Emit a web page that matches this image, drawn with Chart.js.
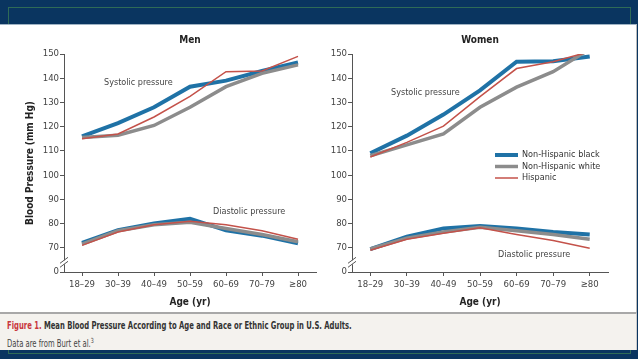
<!DOCTYPE html>
<html>
<head>
<meta charset="utf-8">
<script src="https://cdn.jsdelivr.net/npm/chart.js@4.4.0/dist/chart.umd.min.js"></script>
<style>
  html, body { margin: 0; padding: 0; }
  body { width: 638px; height: 359px; background: #0a3560; position: relative; overflow: hidden;
         font-family: 'Liberation Sans Narrow', 'DejaVu Sans Condensed', 'Liberation Sans', sans-serif; }
  #frame { position: absolute; left: 8px; top: 7px; width: 621px; height: 345px; border: 1px solid #2f6b57; }
  #panel { position: absolute; left: 0; top: 24px; width: 636px; height: 288px; background: #fff;
           border-top: 1px solid #9fb3c4; border-right: 1px solid #bbb; }
  #caption { position: absolute; left: 0; top: 312px; width: 636px; height: 36px; background: #f4f2ee;
             border-top: 2px solid #a8a8a8; border-right: 1px solid #ccc; color: #333; font-size: 10px; }
  #caption div { position: absolute; left: 7px; white-space: nowrap; transform: scaleX(0.76); transform-origin: 0 0; }
  #caption .l1 { top: 6px; font-weight: bold; }
  #caption .l1 span { color: #c8363c; }
  #caption .l2 { top: 23px; color: #444; }
  .box { position: absolute; top: 24px; height: 288px; }
</style>
</head>
<body>
<div id="frame"></div>
<div id="panel"></div>
<div class="box" style="left:0;width:320px"><canvas id="men" width="320" height="288"></canvas></div>
<div class="box" style="left:320px;width:316px"><canvas id="women" width="316" height="288"></canvas></div>
<div id="caption">
  <div class="l1"><span>Figure 1.</span> Mean Blood Pressure According to Age and Race or Ethnic Group in U.S. Adults.</div>
  <div class="l2">Data are from Burt et al.<sup style="font-size:7px">3</sup></div>
</div>
<script>
//Data
const ages = ['18–29', '30–39', '40–49', '50–59', '60–69', '70–79', '≥80'];
const groups = ['Non-Hispanic black', 'Non-Hispanic white', 'Hispanic'];
const yTicks = [0, 70, 80, 90, 100, 110, 120, 130, 140, 150];

const menSysBlack = [116, 121.5, 128, 136.5, 139, 143, 146.5];
const menSysWhite = [115.5, 116.5, 120.5, 128, 136.5, 142, 145.5];
const menSysHisp = [115, 117, 124, 132.5, 142.7, 143, 149];
const menDiaBlack = [72, 77.3, 80, 82, 77.2, 75, 71.8];
const menDiaWhite = [71.5, 77, 79.5, 80.5, 78, 75.5, 72.5];
const menDiaHisp = [71, 76.5, 79.5, 81, 79.5, 77, 73.5];

const womenSysBlack = [109, 116.3, 125, 135, 146.8, 147, 149];
const womenSysWhite = [108, 112.5, 117, 128, 136.3, 142.7, 152];
const womenSysHisp = [107.5, 113.5, 120.2, 132.4, 144, 146.8, 151];
const womenDiaBlack = [69.4, 74.6, 78, 79, 78, 76.5, 75.5];
const womenDiaWhite = [69.5, 74, 76.5, 78.5, 77, 75.5, 73.5];
const womenDiaHisp = [69, 73.5, 76, 78.3, 75.5, 73, 69.8];

const colors = ['#1f72a6', '#8c8c8c', '#c4524a'];
const widths = [4, 3.5, 1.5];
const font = "'Liberation Sans Narrow', 'DejaVu Sans Condensed', 'Liberation Sans', sans-serif";

// 0 sits one step below 70 on the broken axis
const axisZero = 60;

function makeSets(sys, dia) {
    let sets = [];
    for (let i = 0; i < 3; i++) {
        [sys[i], dia[i]].forEach(arr => {
            sets.push({
                data: arr,
                borderColor: colors[i],
                borderWidth: widths[i],
                order: 2 - i,
                pointRadius: 0,
                tension: 0,
                fill: false
            });
        });
    }
    return sets;
}

//Plugin drawing titles, annotations, the axis break and the legend
const extras = {
    id: 'extras',
    afterDraw(chart, args, opts) {
        const c = chart.ctx;
        const area = chart.chartArea;
        const y = chart.scales.y;
        c.save();
        c.fillStyle = '#222';
        c.textAlign = 'center';
        c.textBaseline = 'middle';
        c.font = 'bold 10px ' + font;
        c.fillText(opts.title, (area.left + area.right) / 2, 16);
        c.font = '9px ' + font;
        c.fillStyle = '#444';
        c.textAlign = 'left';
        opts.notes.forEach(n => c.fillText(n[0], n[1], n[2]));
        // axis break
        const yb = y.getPixelForValue(64);
        c.fillStyle = '#fff';
        c.fillRect(area.left - 3, yb - 2, 6, 4);
        c.strokeStyle = '#555';
        c.lineWidth = 1;
        [-2, 2].forEach(d => {
            c.beginPath();
            c.moveTo(area.left - 4, yb + d + 3);
            c.lineTo(area.left + 4, yb + d - 3);
            c.stroke();
        });
        // legend
        if (opts.legend) {
            const lx = opts.legend[0], ly = opts.legend[1];
            groups.forEach((g, i) => {
                c.strokeStyle = colors[i];
                c.lineWidth = widths[i];
                c.beginPath();
                c.moveTo(lx, ly + i * 11.5);
                c.lineTo(lx + 23, ly + i * 11.5);
                c.stroke();
                c.fillStyle = '#333';
                c.fillText(g, lx + 27, ly + i * 11.5);
            });
        }
        c.restore();
    }
};

function makeChart(id, sets, opts, yWidth, padRight, yTitle) {
    return new Chart(document.getElementById(id), {
        type: 'line',
        data: { labels: ages, datasets: sets },
        plugins: [extras],
        options: {
            responsive: false,
            animation: false,
            layout: { padding: { top: 30, right: padRight, left: 0, bottom: 0 } },
            plugins: { legend: { display: false }, tooltip: { enabled: false }, extras: opts },
            scales: {
                x: {
                    offset: true,
                    grid: { drawOnChartArea: false, tickLength: 4, color: '#555' },
                    border: { color: '#555' },
                    ticks: { color: '#444', font: { family: font, size: 9.5 }, padding: 3, maxRotation: 0 },
                    title: { display: true, text: 'Age (yr)', color: '#222', font: { family: font, size: 10, weight: 'bold' }, padding: { top: 4 } },
                    afterFit: s => { s.height = 40; }
                },
                y: {
                    min: axisZero,
                    max: 150,
                    afterBuildTicks: s => { s.ticks = yTicks.map(v => ({ value: v === 0 ? axisZero : v })); },
                    grid: { drawOnChartArea: false, tickLength: 4, color: '#555' },
                    border: { color: '#555' },
                    ticks: {
                        color: '#444', font: { family: font, size: 9.5 }, padding: 1,
                        callback: v => v === axisZero ? '0' : v
                    },
                    title: { display: yTitle, text: 'Blood Pressure (mm Hg)', color: '#222', font: { family: font, size: 10, weight: 'bold' }, padding: { top: 24, bottom: 0 } },
                    afterFit: s => { s.width = yWidth; }
                }
            }
        }
    });
}

makeChart('men',
    makeSets([menSysBlack, menSysWhite, menSysHisp], [menDiaBlack, menDiaWhite, menDiaHisp]),
    { title: 'Men', notes: [['Systolic pressure', 104, 59], ['Diastolic pressure', 213, 188]] },
    64, 4, true);

makeChart('women',
    makeSets([womenSysBlack, womenSysWhite, womenSysHisp], [womenDiaBlack, womenDiaWhite, womenDiaHisp]),
    { title: 'Women', notes: [['Systolic pressure', 71, 69], ['Diastolic pressure', 178, 231]], legend: [175, 131] },
    32, 28, false);
</script>
</body>
</html>
